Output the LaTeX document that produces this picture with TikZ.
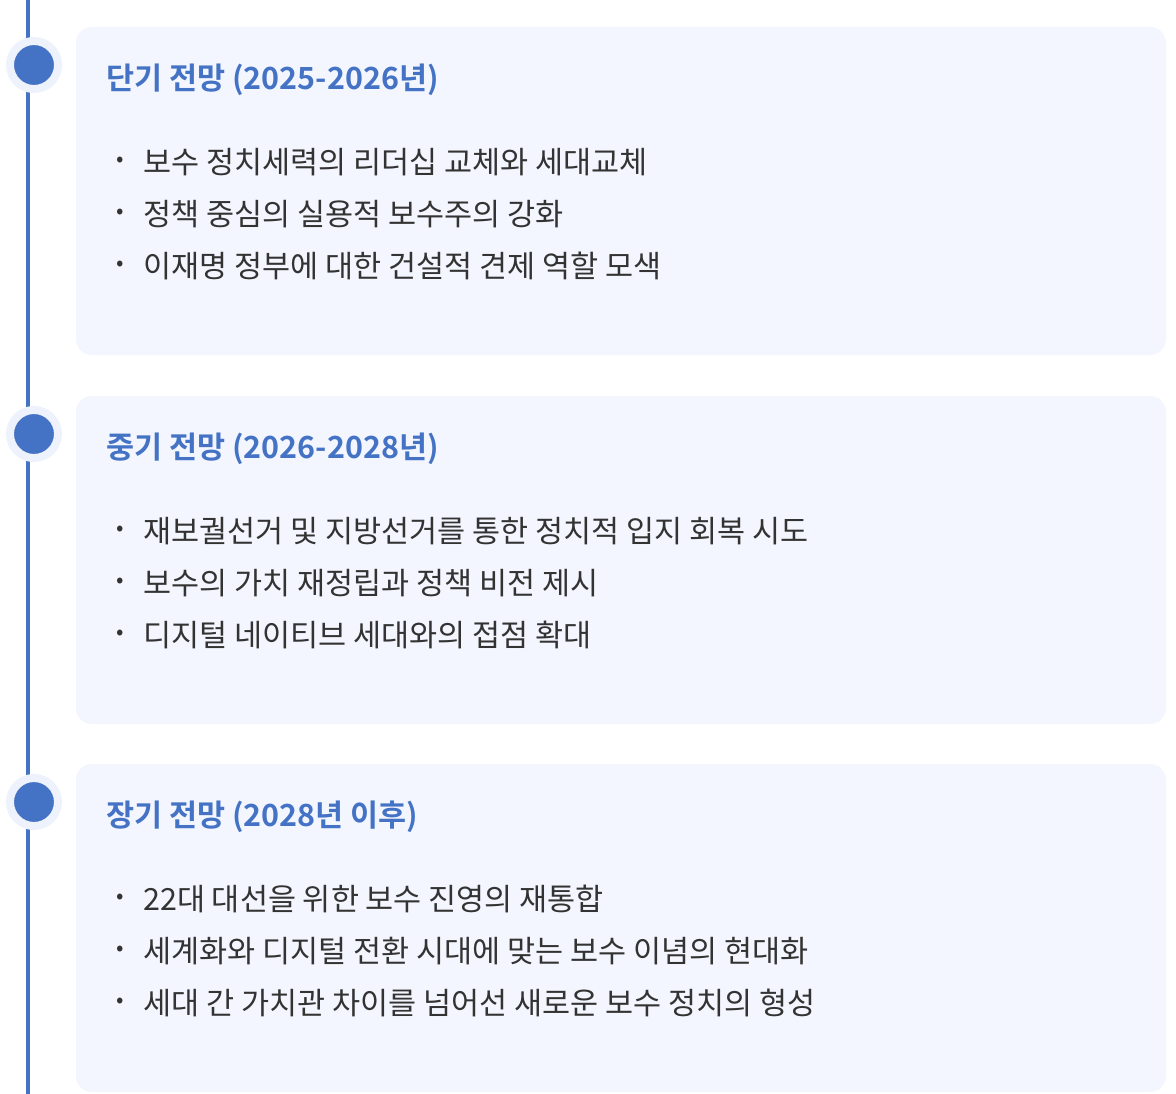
\documentclass[tikz,border=0pt]{standalone}
\usepackage{fontspec}
\setmainfont{Noto Sans CJK KR}
\newfontfamily\titlefont{Noto Sans CJK KR Bold}
\definecolor{tlblue}{HTML}{4472C4}
\definecolor{cardbg}{HTML}{F3F6FE}
\definecolor{halo}{HTML}{EDF2FC}
\definecolor{bodytxt}{HTML}{333333}
\begin{document}
\begin{tikzpicture}[x=1pt,y=-1pt,
  card/.style={fill=cardbg,draw=none,rounded corners=16pt},
  dotnode/.style={circle,fill=tlblue,minimum size=48pt,inner sep=0pt,draw=halo,line width=8pt},
  ttl/.style={anchor=west,inner sep=0pt,text=tlblue,font=\titlefont\fontsize{30.5}{34}\selectfont},
  itm/.style={anchor=west,inner sep=0pt,text=bodytxt,font=\fontsize{30.5}{34}\selectfont},
  bul/.style={anchor=center,inner sep=0pt,text=bodytxt,font=\fontsize{22}{26}\selectfont}]
\useasboundingbox (0,0) rectangle (1176,1094);
\fill[white] (0,0) rectangle (1176,1094);
\coordinate (ltop) at (28,0);
\coordinate (lbot) at (28,1094);
\draw[tlblue,line width=4pt] (ltop) -- (lbot);
\foreach \i/\t/\ttext/\a/\b/\c in {
 1/27/{단기 전망 (2025-2026년)}/{보수 정치세력의 리더십 교체와 세대교체}/{정책 중심의 실용적 보수주의 강화}/{이재명 정부에 대한 건설적 견제 역할 모색},
 2/396/{중기 전망 (2026-2028년)}/{재보궐선거 및 지방선거를 통한 정치적 입지 회복 시도}/{보수의 가치 재정립과 정책 비전 제시}/{디지털 네이티브 세대와의 접점 확대},
 3/764/{장기 전망 (2028년 이후)}/{22대 대선을 위한 보수 진영의 재통합}/{세계화와 디지털 전환 시대에 맞는 보수 이념의 현대화}/{세대 간 가치관 차이를 넘어선 새로운 보수 정치의 형성}}{
  \fill[card] (76,\t) rectangle (1166,\t+328);
  \node[dotnode] (dot\i) at (34,\t+38) {};
  \node[ttl] (title\i) at (106,\t+53) {\ttext};
  \node[bul] (bA\i) at (120,\t+135) {•};
  \node[itm] (iA\i) at (143,\t+135) {\a};
  \node[bul] (bB\i) at (120,\t+187) {•};
  \node[itm] (iB\i) at (143,\t+187) {\b};
  \node[bul] (bC\i) at (120,\t+239) {•};
  \node[itm] (iC\i) at (143,\t+239) {\c};
}
\end{tikzpicture}
\end{document}
